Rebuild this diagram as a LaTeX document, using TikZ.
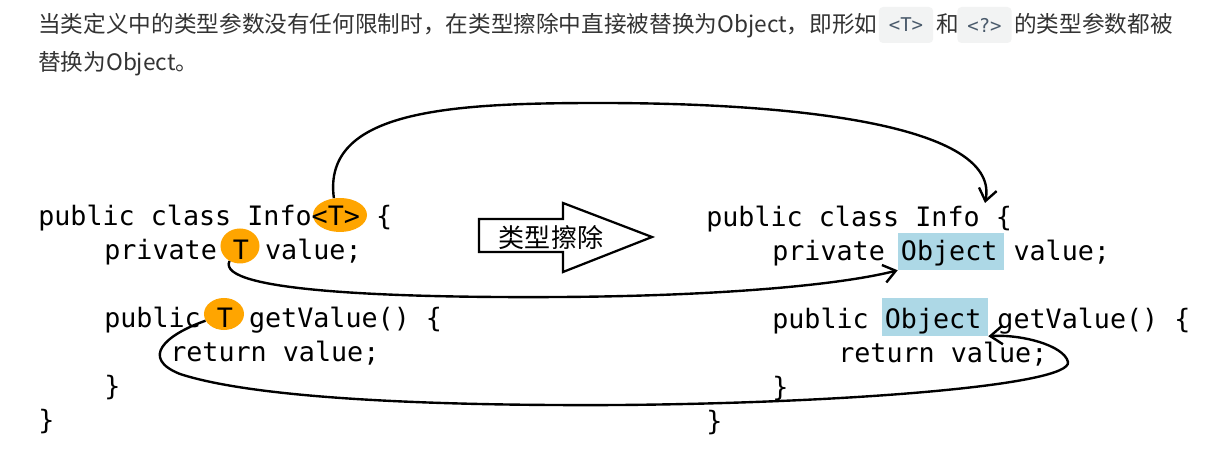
\documentclass[tikz,border=0pt]{standalone}
\usepackage{fontspec}
\setmainfont{Noto Sans CJK SC}
\newfontfamily\codefont{DejaVu Sans Mono}
\usetikzlibrary{arrows.meta,positioning,shapes.geometric}
\definecolor{textgray}{HTML}{333333}
\definecolor{inlinebg}{HTML}{F2F3F3}
\definecolor{inlinefg}{HTML}{4A5A6B}
\definecolor{tparam}{HTML}{FFA500}
\definecolor{objblue}{HTML}{ADD8E6}
\tikzset{
  code/.style={font=\codefont\fontsize{19}{20}\selectfont, anchor=base west, inner sep=0pt},
  prose/.style={font=\fontsize{16.1}{18}\selectfont, text=textgray, anchor=base west, inner sep=0pt},
  inline/.style={fill=inlinebg, rounded corners=3pt, minimum width=1.36cm, minimum height=0.9cm,
    inner sep=0pt, font=\codefont\fontsize{13.5}{14}\selectfont, text=inlinefg},
  tmark/.style={ellipse, fill=tparam, inner sep=0pt},
  objmark/.style={fill=objblue, inner sep=0pt, minimum width=2.65cm},
  link/.style={line width=1.7pt, -{Straight Barb[length=3mm,width=4.5mm]}},
}
\begin{document}
\begin{tikzpicture}[x=0.025cm, y=-0.025cm]
  \useasboundingbox (0,0) rectangle (1205,457);

  % intro text
  \node[prose] (intro) at (38,33) {当类定义中的类型参数没有任何限制时，在类型擦除中直接被替换为Object，即形如};
  \node[inline] (inlT) at (906,25) {<T>};
  \node[prose] (he) at (936,33) {和};
  \node[inline] (inlQ) at (984.5,25) {<?>};
  \node[prose] (rest) at (1014,33) {的类型参数都被};
  \node[prose] (intro2) at (38,71) {替换为Object。};

  % highlights
  \node[tmark, minimum width=1.35cm, minimum height=0.85cm] (tcls) at (340,215) {};
  \node[tmark, minimum width=0.975cm, minimum height=0.875cm] (tfield) at (240,246) {};
  \node[tmark, minimum width=1cm, minimum height=0.8cm] (tret) at (224,314) {};
  \node[objmark, minimum height=0.925cm] (objfield) at (951,251.5) {};
  \node[objmark, minimum height=0.95cm] (objret) at (935,317) {};

  % generic class
  \node[code] (l1) at (38,226) {public class Info<T> \{};
  \node[code] (l2) at (104,260) {private T value;};
  \node[code] (l4) at (104,328) {public T getValue() \{};
  \node[code] (l5) at (170,362) {return value;};
  \node[code] (l6) at (104,396) {\}};
  \node[code] (l7) at (38,430) {\}};

  % erased class
  \node[code] (r1) at (706,227) {public class Info \{};
  \node[code] (r2) at (772,261) {private Object value;};
  \node[code] (r4) at (772,329) {public Object getValue() \{};
  \node[code] (r5) at (838,363) {return value;};
  \node[code] (r6) at (772,397) {\}};
  \node[code] (r7) at (706,431) {\}};
  \coordinate (clsend) at (985,203);

  % big arrow
  \draw[line width=1.6pt, fill=white] (479,219) -- (563,219) -- (563,203) -- (652,237)
    -- (563,272) -- (563,252) -- (479,252) -- cycle;
  \node[font=\fontsize{18.5}{20}\selectfont, inner sep=0pt] (erase) at (551,238) {类型擦除};

  % links
  \draw[link] (tcls.110) .. controls (322,110) and (450,103) .. (600,103)
    .. controls (820,103) and (1000,130) .. (clsend);
  \draw[link] (tfield.235) .. controls (215,292) and (400,298) .. (560,297)
    .. controls (720,296) and (840,285) .. (objfield.south west);
  \draw[link] (tret.200) .. controls (165,335) and (140,358) .. (180,374)
    .. controls (260,400) and (450,406) .. (620,405)
    .. controls (850,403) and (1072,385) .. (1068,362)
    .. controls (1064,345) and (1020,334) .. (objret.south east);
\end{tikzpicture}
\end{document}
